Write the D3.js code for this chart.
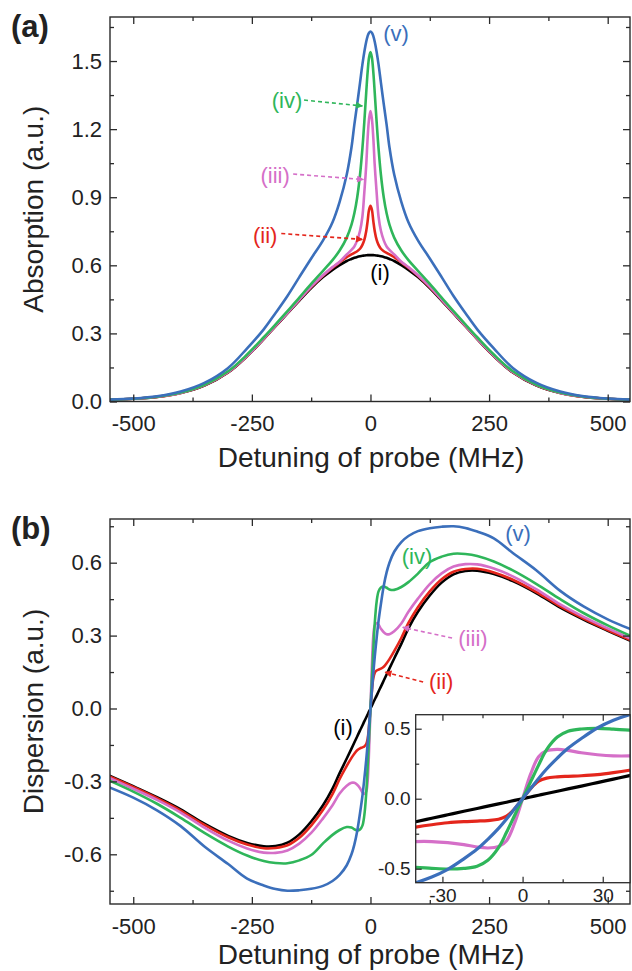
<!DOCTYPE html>
<html><head><meta charset="utf-8">
<script src="https://cdn.jsdelivr.net/npm/d3@7"></script>
<style>
body{margin:0;background:#fff}
svg{display:block}
text{font-family:"Liberation Sans",Arial,Helvetica,sans-serif}
</style>
</head><body>
<svg id="chart" width="632" height="971"></svg>
<script>
// ---------------- data ----------------
const detuning = [-550,-500,-450,-400,-350,-300,-260,-225,-200,-175,-150,-125,-100,-80,-65,-50,-40,-34,-28,-22,-17,-13,-9,-6,-3,0,3,6,9,13,17,22,28,34,40,50,65,80,100,125,150,175,200,225,260,300,350,400,450,500,550];

const seriesNames = ["(i)","(ii)","(iii)","(iv)","(v)"];

const absI   = [0.008,0.012,0.020,0.037,0.070,0.128,0.200,0.275,0.332,0.388,0.445,0.500,0.548,0.580,0.601,0.619,0.628,0.633,0.637,0.640,0.642,0.643,0.644,0.645,0.645,
                0.645,
                0.645,0.645,0.644,0.643,0.642,0.640,0.637,0.633,0.628,0.619,0.601,0.580,0.548,0.500,0.445,0.388,0.332,0.275,0.200,0.128,0.070,0.037,0.020,0.012,0.008];
const absII  = [0.008,0.012,0.020,0.038,0.071,0.129,0.201,0.276,0.333,0.390,0.448,0.504,0.554,0.589,0.613,0.636,0.648,0.655,0.662,0.673,0.690,0.712,0.750,0.795,0.845,
                0.862,
                0.845,0.795,0.750,0.712,0.690,0.673,0.662,0.655,0.648,0.636,0.613,0.589,0.554,0.504,0.448,0.390,0.333,0.276,0.201,0.129,0.071,0.038,0.020,0.012,0.008];
const absIII = [0.008,0.012,0.021,0.038,0.072,0.130,0.202,0.277,0.334,0.391,0.449,0.506,0.556,0.592,0.616,0.648,0.668,0.683,0.710,0.752,0.815,0.920,1.040,1.160,1.245,
                1.280,
                1.245,1.160,1.040,0.920,0.815,0.752,0.710,0.683,0.668,0.648,0.616,0.592,0.556,0.506,0.449,0.391,0.334,0.277,0.202,0.130,0.072,0.038,0.021,0.012,0.008];
const absIV  = [0.008,0.012,0.021,0.040,0.074,0.133,0.207,0.283,0.340,0.398,0.458,0.518,0.576,0.623,0.665,0.722,0.779,0.829,0.899,0.999,1.115,1.231,1.360,1.451,1.516,
                1.540,
                1.516,1.451,1.360,1.231,1.115,0.999,0.899,0.829,0.779,0.722,0.665,0.623,0.576,0.518,0.458,0.398,0.340,0.283,0.207,0.133,0.074,0.040,0.021,0.012,0.008];
const absV   = [0.008,0.013,0.023,0.044,0.082,0.148,0.234,0.318,0.390,0.465,0.548,0.630,0.710,0.790,0.880,1.000,1.120,1.220,1.310,1.405,1.485,1.540,1.585,1.610,1.625,
                1.630,
                1.625,1.610,1.585,1.540,1.485,1.405,1.310,1.220,1.120,1.000,0.880,0.790,0.710,0.630,0.548,0.465,0.390,0.318,0.234,0.148,0.082,0.044,0.023,0.013,0.008];

const dispI   = [-0.277,-0.320,-0.365,-0.415,-0.474,-0.524,-0.553,-0.567,-0.566,-0.552,-0.518,-0.465,-0.398,-0.330,-0.266,-0.206,-0.165,-0.140,-0.115,-0.090,-0.070,-0.053,-0.037,-0.025,-0.012,
                 0,
                 0.012,0.025,0.037,0.053,0.070,0.090,0.115,0.140,0.165,0.206,0.266,0.330,0.398,0.465,0.518,0.552,0.566,0.567,0.553,0.524,0.474,0.415,0.365,0.320,0.277];
const dispII  = [-0.280,-0.323,-0.369,-0.420,-0.479,-0.530,-0.560,-0.575,-0.574,-0.563,-0.532,-0.482,-0.417,-0.352,-0.290,-0.236,-0.203,-0.186,-0.172,-0.164,-0.160,-0.156,-0.147,-0.125,-0.072,
                 0,
                 0.072,0.125,0.147,0.156,0.160,0.164,0.172,0.186,0.203,0.236,0.290,0.352,0.417,0.482,0.532,0.563,0.574,0.575,0.560,0.530,0.479,0.420,0.369,0.323,0.280];
const dispIII = [-0.286,-0.330,-0.376,-0.428,-0.490,-0.544,-0.576,-0.593,-0.594,-0.584,-0.556,-0.512,-0.452,-0.398,-0.350,-0.318,-0.306,-0.306,-0.314,-0.328,-0.345,-0.352,-0.342,-0.300,-0.175,
                 0,
                 0.175,0.300,0.342,0.352,0.345,0.328,0.314,0.306,0.306,0.318,0.350,0.398,0.452,0.512,0.556,0.584,0.594,0.593,0.576,0.544,0.490,0.428,0.376,0.330,0.286];
const dispIV  = [-0.297,-0.342,-0.392,-0.450,-0.512,-0.568,-0.605,-0.628,-0.636,-0.637,-0.625,-0.603,-0.555,-0.520,-0.500,-0.488,-0.490,-0.497,-0.502,-0.498,-0.482,-0.440,-0.350,-0.240,-0.120,
                 0,
                 0.120,0.240,0.350,0.440,0.482,0.498,0.502,0.497,0.490,0.488,0.500,0.520,0.555,0.603,0.625,0.637,0.636,0.628,0.605,0.568,0.512,0.450,0.392,0.342,0.297];
const dispV   = [-0.325,-0.367,-0.419,-0.484,-0.568,-0.640,-0.700,-0.728,-0.743,-0.750,-0.748,-0.742,-0.730,-0.710,-0.685,-0.645,-0.600,-0.560,-0.505,-0.430,-0.360,-0.290,-0.212,-0.145,-0.072,
                 0,
                 0.072,0.145,0.212,0.290,0.360,0.430,0.505,0.560,0.600,0.645,0.685,0.710,0.730,0.742,0.748,0.750,0.743,0.728,0.700,0.640,0.568,0.484,0.419,0.367,0.325];

const xTicks = [-500,-250,0,250,500];
const xMinorTicks = [-375,-125,125,375];
const absTicks = [0.0,0.3,0.6,0.9,1.2,1.5];
const absMinorTicks = [0.15,0.45,0.75,1.05,1.35,1.65];
const dispTicks = [-0.6,-0.3,0.0,0.3,0.6];
const dispMinorTicks = [-0.75,-0.45,-0.15,0.15,0.45,0.75];
const insetXTicks = [-30,0,30];
const insetXMinorTicks = [-15,15];
const insetYTicks = [-0.5,0.0,0.5];
const insetYMinorTicks = [-0.25,0.25];

// annotation labels (data coordinates)
const absLabels  = [{s:4,x:54,y:1.623},{s:3,x:-176,y:1.328},{s:2,x:-201,y:0.998},{s:1,x:-222,y:0.733},{s:0,x:20,y:0.570}];
const absArrows  = [{s:3,x1:-140,y1:1.328,x2:-17,y2:1.302},{s:2,x1:-163,y1:1.002,x2:-15,y2:0.978},{s:1,x1:-188,y1:0.740,x2:-17,y2:0.714}];
const dispLabels = [{s:4,x:311,y:0.722},{s:3,x:98,y:0.628},{s:2,x:216,y:0.290},{s:1,x:149,y:0.113},{s:0,x:-58,y:-0.076}];
const dispArrows = [{s:2,x1:172,y1:0.290,x2:68,y2:0.334},{s:1,x1:111,y1:0.109,x2:31,y2:0.149}];

// ---------------- drawing ----------------
const colors = ["#000000","#e4261c","#d56fc8","#2fb65a","#3b6fbb"];
const svg = d3.select("#chart");
const frameColor = "#2a2a2a";
const L = 110, R = 630;

const x = d3.scaleLinear().domain([-549, 547]).range([L, R]);
const yA = d3.scaleLinear().domain([0, 1.694]).range([401.5, 17]);
const yD = d3.scaleLinear().domain([-0.8045, 0.7798]).range([904, 519]);

const defs = svg.append("defs");
colors.forEach((c,i)=>{
  defs.append("marker").attr("id","ah"+i).attr("viewBox","0 0 10 10")
    .attr("refX",9).attr("refY",5).attr("markerWidth",10).attr("markerHeight",7)
    .attr("markerUnits","userSpaceOnUse").attr("orient","auto")
    .append("path").attr("d","M0,0 L10,5 L0,10 Z").attr("fill",c);
});
function clip(id, x0, y0, w, h){
  defs.append("clipPath").attr("id",id).append("rect").attr("x",x0).attr("y",y0).attr("width",w).attr("height",h);
}

function drawPanel(ys, ticks, minor, fmtY, series, tag, title, titleY, yTitle, labels, arrows, idx){
  const y0 = ys.range()[0], y1 = ys.range()[1];
  clip("clip"+idx, L, y1, R-L, y0-y1);
  const g = svg.append("g");
  const line = d3.line().x((d,i)=>x(detuning[i])).y(d=>ys(d)).curve(d3.curveCatmullRom.alpha(0.5));
  const cg = g.append("g").attr("clip-path","url(#clip"+idx+")");
  series.forEach((s,i)=>{
    cg.append("path").datum(s).attr("d",line).attr("fill","none")
      .attr("stroke",colors[i]).attr("stroke-width",2.6).attr("stroke-linejoin","round");
  });
  const ax = (gen, tr) => g.append("g").attr("transform",tr).call(gen)
      .call(a=>a.select(".domain").remove())
      .call(a=>a.selectAll("line").attr("stroke",frameColor).attr("stroke-width",1.3));
  const bx = ax(d3.axisBottom(x).tickValues(xTicks).tickSize(-7).tickPadding(14).tickFormat(d=>String(d)), `translate(0,${y0})`);
  bx.selectAll("text").attr("font-size",22).attr("fill","#222");
  ax(d3.axisBottom(x).tickValues(xMinorTicks).tickSize(-4).tickFormat(""), `translate(0,${y0})`);
  ax(d3.axisTop(x).tickValues(xTicks).tickSize(-7).tickFormat(""), `translate(0,${y1})`);
  ax(d3.axisTop(x).tickValues(xMinorTicks).tickSize(-4).tickFormat(""), `translate(0,${y1})`);
  const ly = ax(d3.axisLeft(ys).tickValues(ticks).tickSize(-7).tickPadding(8).tickFormat(fmtY), `translate(${L},0)`);
  ly.selectAll("text").attr("font-size",22).attr("fill","#222");
  ax(d3.axisLeft(ys).tickValues(minor).tickSize(-4).tickFormat(""), `translate(${L},0)`);
  ax(d3.axisRight(ys).tickValues(ticks).tickSize(-7).tickFormat(""), `translate(${R},0)`);
  ax(d3.axisRight(ys).tickValues(minor).tickSize(-4).tickFormat(""), `translate(${R},0)`);
  g.append("rect").attr("x",L).attr("y",y1).attr("width",R-L).attr("height",y0-y1)
    .attr("fill","none").attr("stroke",frameColor).attr("stroke-width",1.4);
  g.append("text").attr("x",(L+R)/2 + 1).attr("y",titleY).attr("text-anchor","middle")
    .attr("font-size",28).attr("fill","#222").text(title);
  g.append("text").attr("transform",`translate(43,${(y0+y1)/2}) rotate(-90)`).attr("text-anchor","middle")
    .attr("font-size",28).attr("fill","#222").text(yTitle);
  g.append("text").attr("x",11).attr("y",y1+20).attr("font-size",31).attr("font-weight","bold")
    .attr("fill","#222").text(tag);
  arrows.forEach(a=>{
    g.append("line").attr("x1",x(a.x1)).attr("y1",ys(a.y1)).attr("x2",x(a.x2)).attr("y2",ys(a.y2))
      .attr("stroke",colors[a.s]).attr("stroke-width",1.6).attr("stroke-dasharray","4,3")
      .attr("marker-end","url(#ah"+a.s+")");
  });
  labels.forEach(l=>{
    g.append("text").attr("x",x(l.x)).attr("y",ys(l.y)).attr("dy","0.35em").attr("text-anchor","middle")
      .attr("font-size",22).attr("fill",colors[l.s]).text(seriesNames[l.s]);
  });
  return g;
}

const fmt1 = d=>d.toFixed(1);
drawPanel(yA, absTicks, absMinorTicks, fmt1, [absI,absII,absIII,absIV,absV], "(a)",
  "Detuning of probe (MHz)", 467, "Absorption (a.u.)", absLabels, absArrows, 0);
drawPanel(yD, dispTicks, dispMinorTicks, fmt1, [dispI,dispII,dispIII,dispIV,dispV], "(b)",
  "Detuning of probe (MHz)", 964, "Dispersion (a.u.)", dispLabels, dispArrows, 1);

// ---------------- inset ----------------
const iL = 415.7, iR = 630, iT = 714.7, iB = 882.7;
const xi = d3.scaleLinear().domain([-40, 40.2]).range([iL, iR]);
const yi = d3.scaleLinear().domain([-0.6, 0.6]).range([iB, iT]);
clip("clipInset", iL, iT, iR-iL, iB-iT);
const gi = svg.append("g");
gi.append("rect").attr("x",iL).attr("y",iT).attr("width",iR-iL).attr("height",iB-iT).attr("fill","#fff");
const lineI = d3.line().x((d,i)=>xi(detuning[i])).y(d=>yi(d)).curve(d3.curveCatmullRom.alpha(0.5));
const ci = gi.append("g").attr("clip-path","url(#clipInset)");
[dispI,dispII,dispIII,dispIV,dispV].forEach((s,i)=>{
  ci.append("path").datum(s).attr("d",lineI).attr("fill","none")
    .attr("stroke",colors[i]).attr("stroke-width",3.2).attr("stroke-linejoin","round");
});
const axI = (gen, tr) => gi.append("g").attr("transform",tr).call(gen)
    .call(a=>a.select(".domain").remove())
    .call(a=>a.selectAll("line").attr("stroke",frameColor).attr("stroke-width",1.2));
const ibx = axI(d3.axisBottom(xi).tickValues(insetXTicks).tickSize(-6).tickPadding(6).tickFormat(d=>String(d)), `translate(0,${iB})`);
ibx.selectAll("text").attr("font-size",19).attr("fill","#222");
axI(d3.axisBottom(xi).tickValues(insetXMinorTicks).tickSize(-3.5).tickFormat(""), `translate(0,${iB})`);
axI(d3.axisTop(xi).tickValues(insetXTicks).tickSize(-6).tickFormat(""), `translate(0,${iT})`);
axI(d3.axisTop(xi).tickValues(insetXMinorTicks).tickSize(-3.5).tickFormat(""), `translate(0,${iT})`);
const ily = axI(d3.axisLeft(yi).tickValues(insetYTicks).tickSize(-6).tickPadding(5).tickFormat(fmt1), `translate(${iL},0)`);
ily.selectAll("text").attr("font-size",19).attr("fill","#222");
axI(d3.axisLeft(yi).tickValues(insetYMinorTicks).tickSize(-3.5).tickFormat(""), `translate(${iL},0)`);
gi.append("rect").attr("x",iL).attr("y",iT).attr("width",iR-iL).attr("height",iB-iT)
  .attr("fill","none").attr("stroke",frameColor).attr("stroke-width",1.3);
</script>
</body></html>
